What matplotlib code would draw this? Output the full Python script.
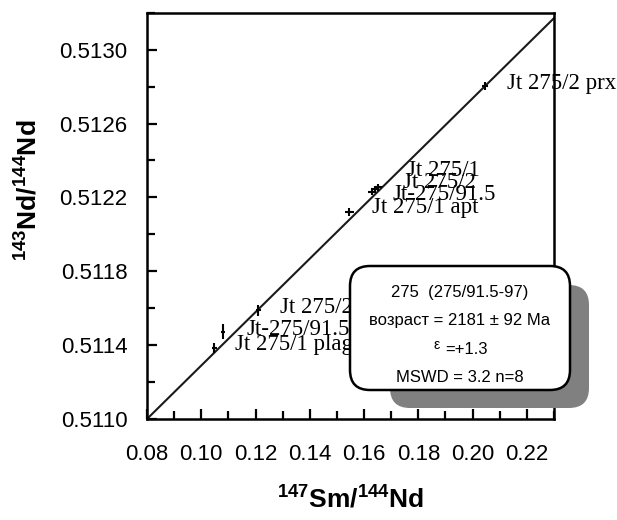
import numpy as np
import matplotlib.pyplot as plt
from matplotlib.patches import FancyBboxPatch
from matplotlib.ticker import FormatStrFormatter

plt.rcParams['mathtext.default'] = 'regular'

# Sm-Nd isochron data
sm_nd = [0.2046, 0.1628, 0.1640, 0.1653, 0.1546, 0.1210, 0.1081, 0.1048]
nd_nd = [0.512803, 0.512231, 0.512244, 0.512255, 0.512123, 0.511590, 0.511473, 0.511383]
sm_err = [0.0012, 0.0014, 0.0014, 0.0014, 0.0017, 0.0010, 0.0008, 0.0010]
nd_err = [0.000022, 0.000020, 0.000020, 0.000020, 0.000022, 0.000030, 0.000040, 0.000028]

labels = ["Jt 275/2 prx", "Jt 275/1", "Jt 275/2", "Jt-275/91.5", "Jt 275/1 apt",
          "Jt 275/2", "Jt-275/91.5", "Jt 275/1 plag"]
label_x = [0.2127, 0.1758, 0.1744, 0.1703, 0.1629, 0.1290, 0.1165, 0.1124]
label_y = [0.512814, 0.512348, 0.512283, 0.512213, 0.512143, 0.511606, 0.511487, 0.511401]

xticks = [0.08, 0.10, 0.12, 0.14, 0.16, 0.18, 0.20, 0.22]
yticks = [0.5110, 0.5114, 0.5118, 0.5122, 0.5126, 0.5130]

slope = 0.01447
intercept = 0.5098424
line_x = np.array([0.08, 0.23])

fig = plt.figure(figsize=(6.17, 5.2), dpi=100)
ax = fig.add_axes([0.2382, 0.1942, 0.6597, 0.7814])

ax.plot(line_x, intercept + slope * line_x, color='#1a1a1a', lw=1.5, zorder=2)
ax.errorbar(sm_nd, nd_nd, xerr=sm_err, yerr=nd_err, fmt='none', ecolor='black',
            elinewidth=1.5, capsize=0, zorder=3)

for t, x, y in zip(labels, label_x, label_y):
    ax.text(x, y, t, family='Liberation Serif', fontsize=16.5, va='center', ha='left',
            clip_on=False, zorder=4)

ax.set_xlim(0.08, 0.23)
ax.set_ylim(0.5110, 0.5132)
ax.set_xticks(xticks)
ax.set_xticks(np.arange(0.08, 0.2301, 0.01), minor=True)
ax.set_yticks(yticks)
ax.set_yticks(np.arange(0.5110, 0.51321, 0.0002), minor=True)
ax.xaxis.set_major_formatter(FormatStrFormatter('%.2f'))
ax.yaxis.set_major_formatter(FormatStrFormatter('%.4f'))
ax.tick_params(which='both', direction='in', width=1.6, top=False, right=False)
ax.tick_params(which='major', length=7)
ax.tick_params(which='minor', length=6)
ax.tick_params(axis='y', which='major', pad=14, labelsize=16)
ax.tick_params(axis='x', which='major', pad=18, labelsize=16)
for lab in ax.get_xticklabels() + ax.get_yticklabels():
    lab.set_family('Liberation Sans')
for s in ax.spines.values():
    s.set_linewidth(1.8)

fig.text(0.047, 0.635, r'$^{143}$Nd/$^{144}$Nd', rotation=90, ha='center', va='center',
         family='Liberation Sans', fontweight='bold', fontsize=19)
fig.text(0.569, 0.04, r'$^{147}$Sm/$^{144}$Nd', ha='center', va='center',
         family='Liberation Sans', fontweight='bold', fontsize=19)

# info box with shadow
shadow = FancyBboxPatch((3.90, 1.12), 1.99, 1.23, boxstyle='round,pad=0,rounding_size=0.2',
                        transform=fig.dpi_scale_trans, facecolor='#808080', edgecolor='none',
                        zorder=5, clip_on=False)
box = FancyBboxPatch((3.50, 1.30), 2.20, 1.24, boxstyle='round,pad=0,rounding_size=0.2',
                     transform=fig.dpi_scale_trans, facecolor='white', edgecolor='black',
                     lw=1.8, zorder=6, clip_on=False)
fig.add_artist(shadow)
fig.add_artist(box)

box_lines = ["275  (275/91.5-97)", "возраст = 2181 ± 92 Ma", None, "MSWD = 3.2 n=8"]
box_y = [293, 321, 348, 377]
for t, py in zip(box_lines, box_y):
    if t is None:
        continue
    fig.text(460 / 617, 1 - py / 520, t, ha='center', va='center', family='Liberation Sans',
             fontsize=12, zorder=7)
fig.text(437 / 617, 1 - 345 / 520, 'ε', ha='center', va='center', family='Liberation Sans',
         fontsize=10, zorder=7)
fig.text(466 / 617, 1 - 350 / 520, '=+1.3', ha='center', va='center', family='Liberation Sans',
         fontsize=12, zorder=7)

fig.savefig('out.png', dpi=100)
